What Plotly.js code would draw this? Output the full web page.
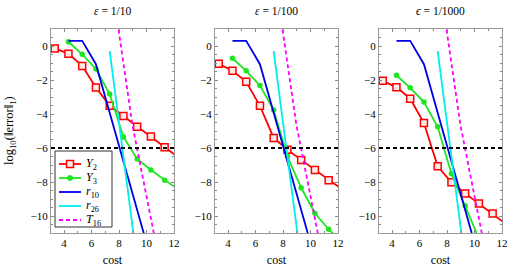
<!DOCTYPE html>
<html>
<head>
<meta charset="utf-8">
<script src="https://cdn.plot.ly/plotly-3.0.1.min.js"></script>
<style>html,body{margin:0;padding:0;background:#fff;}#chart{width:513px;height:267px;}</style>
</head>
<body>
<div id="chart"></div>
<script>
// ---- data ----
var panelTitles = ['<i>ε</i> = 1/10', '<i>ε</i> = 1/100', '<i>ϵ</i> = 1/1000'];
var seriesNames = ['<i>Y</i><sub>2</sub>', '<i>Y</i><sub>3</sub>', '<i>r</i><sub>10</sub>', '<i>r</i><sub>26</sub>', '<i>T</i><sub>16</sub>'];

var costY2 = [3.32, 4.32, 5.32, 6.32, 7.32, 8.32, 9.32, 10.32, 11.32, 12.32];
var costY3 = [4.32, 5.32, 6.32, 7.32, 8.32, 9.32, 10.32, 11.32, 12.32];

var y2_eps10   = [-0.14, -0.45, -1.17, -2.44, -3.52, -4.12, -4.75, -5.33, -5.96, -6.55];
var y3_eps10   = [0.25, -0.49, -1.35, -2.83, -5.35, -6.64, -7.29, -7.89, -8.45];
var y2_eps100  = [-1.05, -1.45, -2.11, -3.52, -5.41, -6.10, -6.70, -7.30, -7.90, -8.45];
var y3_eps100  = [-0.72, -1.46, -2.32, -3.77, -6.50, -8.34, -9.84, -10.78, -11.60];
var y2_eps1000 = [-2.05, -2.42, -3.10, -4.53, -7.08, -8.02, -8.67, -9.27, -9.86, -10.50];
var y3_eps1000 = [-1.72, -2.46, -3.30, -4.75, -7.51, -9.39, -11.33];

var costR10 = [4.32, 5.32, 6.32, 7.32, 8.32, 9.32, 10.32];
var errR10  = [0.3, 0.3, -1.07, -3.93, -6.79, -9.65, -12.5];
var costR26 = [7.32, 8.32, 9.32];
var errR26  = [-0.3, -6.5, -12.7];
var costT16 = [7.6, 7.95, 8.97, 10.5, 11.0];
var errT16  = [3.0, 1.0, -4.63, -10.88, -12.9];

var tolerance = -6;

var xTicks = [4, 6, 8, 10, 12];
var yTicks = [0, -2, -4, -6, -8, -10];

// ---- build ----
var Y2 = [y2_eps10, y2_eps100, y2_eps1000];
var Y3 = [y3_eps10, y3_eps100, y3_eps1000];
var colors = ['#ff0000', '#1ee61e', '#0000e8', '#00eeee', '#ff00ff'];
var dashes = ['solid', 'solid', 'solid', 'solid', '4px,3px'];
var font = 'Liberation Serif';
var sqFill = '#ffeaea';

var traces = [];
for (var p = 0; p < 3; p++) {
  var xa = p === 0 ? 'x' : 'x' + (p + 1);
  var ya = p === 0 ? 'y' : 'y' + (p + 1);
  traces.push({x: costY2.slice(0, Y2[p].length), y: Y2[p], xaxis: xa, yaxis: ya, name: seriesNames[0],
    mode: 'lines+markers', line: {color: colors[0], width: 1.8},
    marker: {symbol: 'square', size: 7, color: sqFill, line: {color: colors[0], width: 1.5}}});
  traces.push({x: costY3.slice(0, Y3[p].length), y: Y3[p], xaxis: xa, yaxis: ya, name: seriesNames[1],
    mode: 'lines+markers', line: {color: colors[1], width: 1.8},
    marker: {symbol: 'circle', size: 5.5, color: colors[1]}});
  traces.push({x: costR10, y: errR10, xaxis: xa, yaxis: ya, name: seriesNames[2],
    mode: 'lines', line: {color: colors[2], width: 1.8}});
  traces.push({x: costR26, y: errR26, xaxis: xa, yaxis: ya, name: seriesNames[3],
    mode: 'lines', line: {color: colors[3], width: 1.8}});
  traces.push({x: costT16, y: errT16, xaxis: xa, yaxis: ya, name: seriesNames[4],
    mode: 'lines', line: {color: colors[4], width: 1.8, dash: dashes[4]}});
}

var W = 513, H = 267, T = 29, B = 34;
function px(v) { return v / W; }
function py(v) { return (H - B - v) / (H - T - B); }

var domains = [[51/513, 174/513], [215/513, 338/513], [379/513, 502/513]];
var layout = {
  width: W, height: H,
  margin: {l: 0, r: 0, t: T, b: B},
  paper_bgcolor: '#fff', plot_bgcolor: '#fff',
  font: {family: font, size: 10, color: '#000'},
  showlegend: false,
  annotations: [],
  shapes: []
};
for (var p = 0; p < 3; p++) {
  var sx = p === 0 ? '' : String(p + 1);
  layout['xaxis' + sx] = {
    domain: domains[p], anchor: 'y' + sx, range: [3.05, 12],
    tickvals: xTicks, ticktext: xTicks.map(String), ticks: 'inside', ticklen: 3,
    tickcolor: '#888', linecolor: '#999', linewidth: 1, mirror: 'ticks',
    showgrid: false, zeroline: false,
    minor: {dtick: 1, tick0: 0, ticks: 'inside', ticklen: 2, tickcolor: '#888', showgrid: false},
    tickfont: {family: font, size: 11},
    title: {text: 'cost', font: {family: font, size: 12}, standoff: 11}
  };
  layout['yaxis' + sx] = {
    domain: [0, 1], anchor: 'x' + sx, range: [-11, 1],
    tickvals: yTicks, ticks: 'inside', ticklen: 3,
    tickcolor: '#888', linecolor: '#999', linewidth: 1, mirror: 'ticks',
    showgrid: false, zeroline: false,
    minor: {dtick: 0.5, tick0: 0, ticks: 'inside', ticklen: 2, tickcolor: '#888', showgrid: false},
    tickfont: {family: font, size: 11}
  };
  layout.annotations.push({text: panelTitles[p], xref: 'paper', yref: 'paper',
    x: (domains[p][0] + domains[p][1]) / 2, y: py(11), xanchor: 'center', yanchor: 'middle',
    showarrow: false, font: {family: font, size: 11.5}});
  layout.shapes.push({type: 'line', xref: 'x' + sx + ' domain', yref: 'y' + sx,
    x0: 0, x1: 1, y0: tolerance, y1: tolerance,
    line: {color: '#000', width: 1.8, dash: '4px,3px'}});
}
layout.annotations.push({text: 'log<sub>10</sub>(‖error‖<sub>1</sub>)', xref: 'paper', yref: 'paper',
  x: px(10), y: 0.5, xanchor: 'center', yanchor: 'middle', textangle: -90,
  showarrow: false, font: {family: font, size: 12.5}});

// ---- legend box (drawn in the first panel) ----
layout.shapes.push({type: 'rect', xref: 'paper', yref: 'paper', x0: px(55), x1: px(112), y0: py(151), y1: py(227),
  fillcolor: '#fff', line: {color: '#333', width: 1}, layer: 'above'});
var rowY = [164, 178, 192, 206, 220];
for (var i = 0; i < 5; i++) {
  var yy = py(rowY[i]);
  layout.shapes.push({type: 'line', xref: 'paper', yref: 'paper', x0: px(59), x1: px(81), y0: yy, y1: yy,
    line: {color: colors[i], width: 1.8, dash: dashes[i]}, layer: 'above'});
  if (i === 0) {
    layout.shapes.push({type: 'rect', xref: 'paper', yref: 'paper', x0: px(66.5), x1: px(73.5),
      y0: py(rowY[i] + 3.5), y1: py(rowY[i] - 3.5), fillcolor: sqFill, line: {color: colors[0], width: 1.5}, layer: 'above'});
  }
  if (i === 1) {
    layout.shapes.push({type: 'circle', xref: 'paper', yref: 'paper', x0: px(67.3), x1: px(72.7),
      y0: py(rowY[i] + 2.7), y1: py(rowY[i] - 2.7), fillcolor: colors[1], line: {color: colors[1], width: 0.5}, layer: 'above'});
  }
  layout.annotations.push({text: seriesNames[i], xref: 'paper', yref: 'paper', x: px(84), y: yy,
    xanchor: 'left', yanchor: 'middle', showarrow: false, font: {family: font, size: 12}});
}

Plotly.newPlot('chart', traces, layout, {staticPlot: true, displayModeBar: false});
</script>
</body>
</html>
